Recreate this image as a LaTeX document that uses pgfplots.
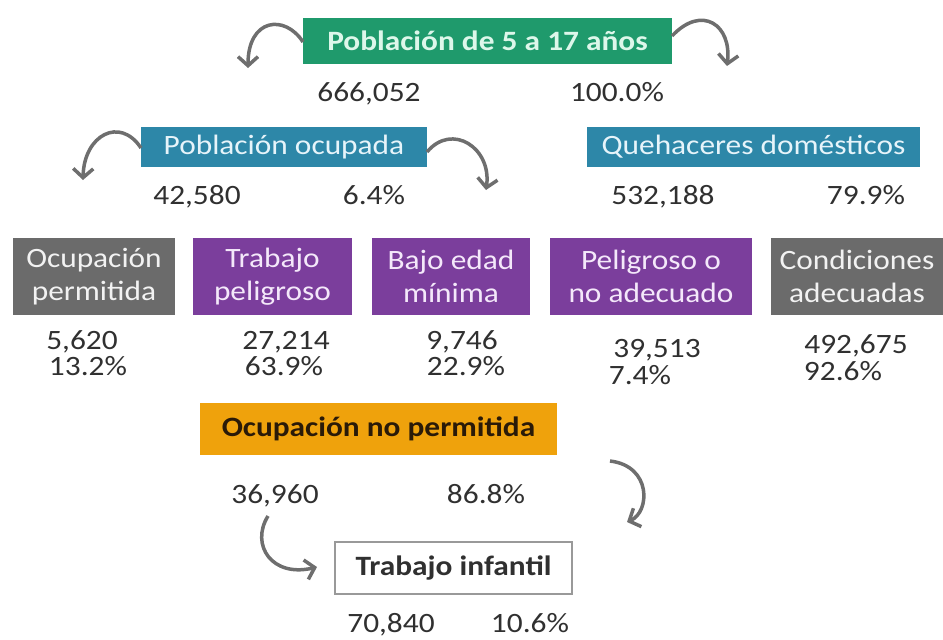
\documentclass[border=0pt]{standalone}
\usepackage{pgfplots}
\pgfplotsset{compat=1.18}
\usepackage{fontspec}
\setmainfont{Carlito}[FakeStretch=1.12]
\usetikzlibrary{arrows.meta}
\definecolor{cgreen}{HTML}{1F9A6C}
\definecolor{cgreentx}{HTML}{DDF7EA}
\definecolor{cblue}{HTML}{2D87A8}
\definecolor{cbluetx}{HTML}{E6F4FA}
\definecolor{cpurple}{HTML}{7B3E9C}
\definecolor{cpurpletx}{HTML}{F4E8FA}
\definecolor{cgray}{HTML}{6B6B6B}
\definecolor{cgraytx}{HTML}{F2F2F2}
\definecolor{corange}{HTML}{EFA20C}
\definecolor{corangetx}{HTML}{2A1A08}
\definecolor{carrow}{HTML}{6E6E6E}
\definecolor{ctext}{HTML}{303030}
\begin{document}
\begin{tikzpicture}
\begin{axis}[
  width=943pt, height=640pt, scale only axis,
  xmin=0, xmax=943, ymin=0, ymax=640, y dir=reverse,
  hide axis, clip=false,
]
\path (rel axis cs:0,0) coordinate (BL) (rel axis cs:1,1) coordinate (TR);
% boxes
\tikzset{bx/.style={inner sep=0pt, font=\fontsize{28}{33}\selectfont, align=center}}
\node[bx, fill=cgreen, text=cgreentx, minimum width=369pt, minimum height=46pt, font=\fontsize{28}{33}\selectfont\bfseries] at (axis cs:487.5,41) {Población de 5 a 17 años};
\node[bx, fill=cblue, text=cbluetx, minimum width=286pt, minimum height=40pt] at (axis cs:284,147) {Población ocupada};
\node[bx, fill=cblue, text=cbluetx, minimum width=333pt, minimum height=40pt] at (axis cs:753.5,147) {Quehaceres domésticos};
\node[bx, fill=cgray, text=cgraytx, minimum width=162pt, minimum height=77pt] at (axis cs:94,276.5) {Ocupación\\permitida};
\node[bx, fill=cpurple, text=cpurpletx, minimum width=159pt, minimum height=77pt] at (axis cs:272.5,276.5) {Trabajo\\peligroso};
\node[bx, fill=cpurple, text=cpurpletx, minimum width=158pt, minimum height=77pt] at (axis cs:451,276.5) {Bajo edad\\mínima};
\node[bx, fill=cpurple, text=cpurpletx, minimum width=202pt, minimum height=77pt] at (axis cs:651,276.5) {Peligroso o\\no adecuado};
\node[bx, fill=cgray, text=cgraytx, minimum width=172pt, minimum height=77pt] at (axis cs:857,276.5) {Condiciones\\adecuadas};
\node[bx, fill=corange, text=corangetx, minimum width=357pt, minimum height=52pt, font=\fontsize{28}{33}\selectfont\bfseries] at (axis cs:378.5,429) {Ocupación no permitida};
\node[bx, fill=white, draw=gray!80, line width=1.5pt, text=ctext, minimum width=237pt, minimum height=52pt, font=\fontsize{28}{33}\selectfont\bfseries] at (axis cs:453.5,568) {Trabajo infantil};
% numbers
\addplot[draw=none, mark=none, nodes near coords, point meta=explicit symbolic,
  nodes near coords align=center,
  every node near coord/.append style={text=ctext, inner sep=0pt, text height=18pt, text depth=0pt, font=\fontsize{28}{33}\selectfont}]
  table[meta=label, row sep=\\] {
  x y label\\
  369 92 666,052\\
  617 92 100.0\%\\
  197 195 42,580\\
  374 195 6.4\%\\
  663 195 532,188\\
  866 195 79.9\%\\
  82 340 5,620\\
  88 366 13.2\%\\
  286 340 27,214\\
  284 366 63.9\%\\
  462 340 9,746\\
  466 366 22.9\%\\
  657 348 39,513\\
  640 375 7.4\%\\
  856 344 492,675\\
  843 371 92.6\%\\
  275 494 36,960\\
  486 494 86.8\%\\
  391 623 70,840\\
  530 623 10.6\%\\
  };
% arrows
\tikzset{arr/.style={draw=carrow, line width=3.5pt, -{Straight Barb[length=9pt,width=20pt,line width=3.5pt]}}}
\draw[arr] (axis cs:303,42) .. controls (axis cs:285,14) and (axis cs:248,18) .. (axis cs:248,68);
\draw[arr] (axis cs:672,36) .. controls (axis cs:702,4) and (axis cs:732,25) .. (axis cs:727,66);
\draw[arr] (axis cs:141,148) .. controls (axis cs:120,116) and (axis cs:84,135) .. (axis cs:83,180);
\draw[arr] (axis cs:427,152) .. controls (axis cs:452,122) and (axis cs:492,148) .. (axis cs:486,190);
\draw[arr] (axis cs:610,461) .. controls (axis cs:652,466) and (axis cs:650,512) .. (axis cs:627,522);
\draw[arr] (axis cs:268,516) .. controls (axis cs:250,545) and (axis cs:272,578) .. (axis cs:317,567);
\end{axis}
\pgfresetboundingbox
\path (BL) rectangle (TR);
\end{tikzpicture}
\end{document}
